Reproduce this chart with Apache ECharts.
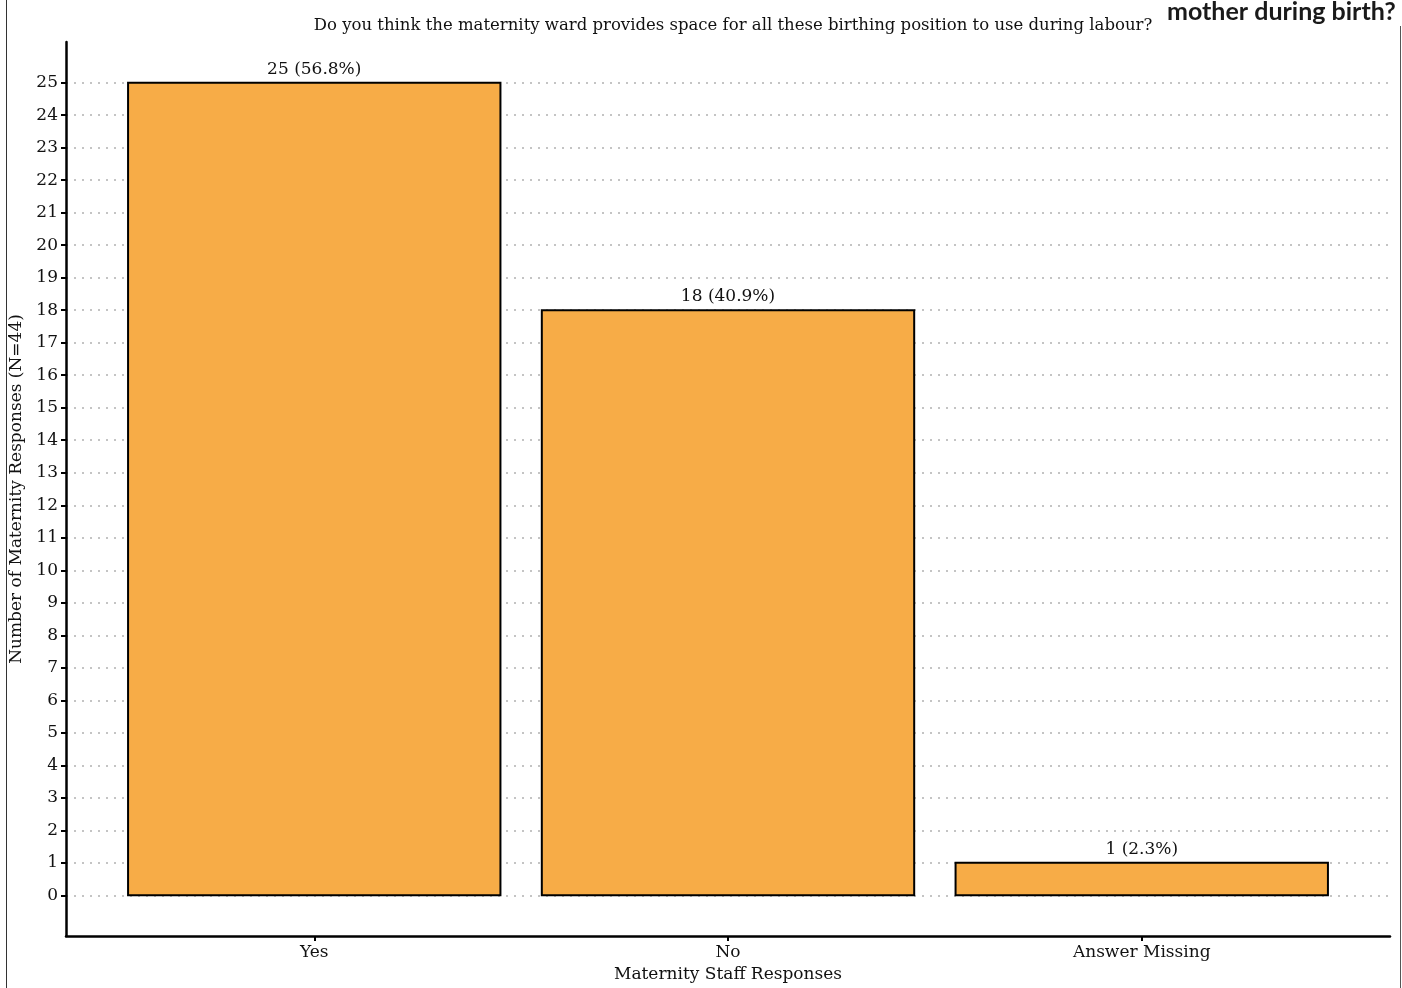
<!DOCTYPE html>
<html>
<head>
<meta charset="utf-8">
<script src="https://cdn.jsdelivr.net/npm/echarts@6/dist/echarts.min.js"></script>
<style>
  html, body { margin: 0; padding: 0; background: #fff; overflow: hidden; }
  #chart { width: 1402px; height: 988px; }
</style>
</head>
<body>
<div id="chart"></div>
<script>
// Survey answers from maternity staff
const categories = ['Yes', 'No', 'Answer Missing'];
const counts = [25, 18, 1];
const percents = ['56.8%', '40.9%', '2.3%'];
const yTicks = [0,1,2,3,4,5,6,7,8,9,10,11,12,13,14,15,16,17,18,19,20,21,22,23,24,25];
const xTicks = [1, 2, 3];

const titleText = 'Do you think the maternity ward provides space for all these birthing position to use during labour?';
const cornerText = 'mother during birth?';
const yName = 'Number of Maternity Responses (N=44)';
const xName = 'Maternity Staff Responses';

const serif = '"DejaVu Serif", "Liberation Serif", serif';
const barFill = '#F7AC47';

const chart = echarts.init(document.getElementById('chart'));

const seriesData = counts.map((v, i) => [i + 1, v, i]);

chart.setOption({
  backgroundColor: '#ffffff',
  animation: false,
  title: {
    text: titleText,
    left: 728,
    top: 12,
    textAlign: 'center',
    textStyle: { fontFamily: serif, fontSize: 16.5, fontWeight: 'normal', color: '#111' }
  },
  graphic: [
    { type: 'line', shape: { x1: 6.5, y1: 0, x2: 6.5, y2: 988 }, style: { stroke: '#333', lineWidth: 1 } },
    { type: 'line', shape: { x1: 1400.5, y1: 26, x2: 1400.5, y2: 988 }, style: { stroke: '#555', lineWidth: 1 } },
    {
      type: 'text', left: 1167, top: -1,
      style: { text: cornerText, font: 'bold 25px Lato, "Noto Sans", sans-serif', fill: '#1a1a1a' }
    }
  ],
  grid: { left: 66, right: 12, top: 42, bottom: 47, containLabel: false },
  xAxis: {
    type: 'value',
    min: 0.4,
    max: 3.6,
    name: xName,
    nameLocation: 'middle',
    nameGap: 30,
    nameTextStyle: { fontFamily: serif, fontSize: 17, color: '#111' },
    axisLine: { show: true, onZero: false, lineStyle: { color: '#000', width: 2.5 } },
    axisTick: { show: true, customValues: xTicks, length: 5, lineStyle: { color: '#000', width: 2 } },
    axisLabel: {
      customValues: xTicks,
      margin: 8,
      fontFamily: serif, fontSize: 17, color: '#111',
      formatter: v => categories[Math.round(v) - 1] || ''
    },
    splitLine: { show: false }
  },
  yAxis: {
    type: 'value',
    min: -1.25,
    max: 26.25,
    name: yName,
    nameLocation: 'middle',
    nameGap: 34,
    nameTextStyle: { fontFamily: serif, fontSize: 17, color: '#111' },
    axisLine: { show: true, onZero: false, lineStyle: { color: '#000', width: 2.5 } },
    axisTick: { show: true, customValues: yTicks, length: 5, lineStyle: { color: '#000', width: 2 } },
    axisLabel: { customValues: yTicks, margin: 8, fontFamily: serif, fontSize: 17, color: '#111' },
    splitLine: {
      show: true,
      lineStyle: { color: '#c4c4c4', width: 2, type: [2, 6] }
    }
  },
  series: [{
    type: 'custom',
    data: seriesData,
    encode: { x: 0, y: 1 },
    clip: false,
    renderItem: function (params, api) {
      const idx = api.value(0);
      const val = api.value(1);
      const k = api.value(2);
      const topLeft = api.coord([idx - 0.45, val]);
      const bottomRight = api.coord([idx + 0.45, 0]);
      return {
        type: 'rect',
        shape: {
          x: topLeft[0],
          y: topLeft[1],
          width: bottomRight[0] - topLeft[0],
          height: bottomRight[1] - topLeft[1]
        },
        style: { fill: barFill, stroke: '#000', lineWidth: 2 },
        textContent: {
          style: {
            text: counts[k] + ' (' + percents[k] + ')',
            font: '17px ' + serif,
            fill: '#111'
          }
        },
        textConfig: { position: 'top', distance: 4 }
      };
    }
  }]
});
</script>
</body>
</html>
